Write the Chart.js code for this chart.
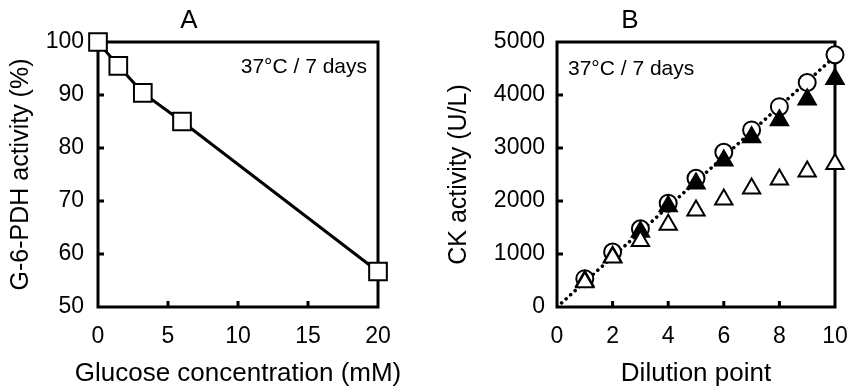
<!DOCTYPE html>
<html>
<head>
<meta charset="utf-8">
<script src="https://cdn.jsdelivr.net/npm/chart.js@4"></script>
<style>
  html, body { margin: 0; padding: 0; background: #fff; }
  #wrap { position: relative; width: 850px; height: 391px; }
  .panel { position: absolute; top: 0; width: 425px; height: 391px; }
</style>
</head>
<body>
<div id="wrap">
  <div class="panel" style="left:0"><canvas id="chartA" width="425" height="391"></canvas></div>
  <div class="panel" style="left:425px"><canvas id="chartB" width="425" height="391"></canvas></div>
</div>
<script>
// panel A data
const glucose = [0, 1.45, 3.2, 6, 20];
const g6pdh = [100, 95.5, 90.4, 85, 56.7];

// panel B data
const dilution = [1, 2, 3, 4, 5, 6, 7, 8, 9, 10];
const ckOpenCircle = [535, 1036, 1476, 1959, 2430, 2919, 3341, 3780, 4237, 4760];
const ckFilledTri = [490, 950, 1420, 1900, 2330, 2763, 3205, 3525, 3913, 4300];
const ckOpenTri = [465, 935, 1247, 1550, 1820, 2030, 2235, 2405, 2555, 2700];
const fitX = [0, 10];
const fitY = [0, 4730];

const black = '#000';
const family = '"Liberation Sans", Arial, sans-serif';

const pts = (xs, ys) => xs.map((x, i) => ({ x: x, y: ys[i] }));

// box frame + inward tick marks
const framePlugin = {
  id: 'frame',
  beforeDatasetsDraw(chart) {
    const { ctx, chartArea: a, scales: { x, y } } = chart;
    ctx.save();
    ctx.strokeStyle = black;
    ctx.lineWidth = 3;
    ctx.beginPath();
    x.ticks.forEach(t => {
      if (t.value <= x.min || t.value >= x.max) return;
      const px = x.getPixelForValue(t.value);
      ctx.moveTo(px, a.bottom);
      ctx.lineTo(px, a.bottom - 6);
    });
    y.ticks.forEach(t => {
      if (t.value <= y.min || t.value >= y.max) return;
      const py = y.getPixelForValue(t.value);
      ctx.moveTo(a.left, py);
      ctx.lineTo(a.left + 6, py);
    });
    ctx.stroke();
    ctx.strokeRect(a.left, a.top, a.right - a.left, a.bottom - a.top);
    ctx.restore();
  }
};

// texts: "37°C / 7 days" note inside the plot, x axis title below it
const notePlugin = {
  id: 'note',
  afterDatasetsDraw(chart, args, opts) {
    const { ctx, chartArea: a } = chart;
    ctx.save();
    ctx.fillStyle = black;
    ctx.textBaseline = 'middle';
    ctx.font = '21px ' + family;
    ctx.textAlign = opts.align;
    const x = opts.align === 'right' ? a.right - opts.inset : a.left + opts.inset;
    ctx.fillText(opts.text, x, a.top + opts.dy);
    ctx.font = '26px ' + family;
    ctx.textAlign = 'center';
    ctx.fillText(opts.xTitle, (a.left + a.right) / 2, chart.height - 17);
    ctx.restore();
  }
};

function baseOptions(title, yTitle, yWidth, rightPad, yTitlePad) {
  return {
    responsive: false,
    animation: false,
    layout: { padding: { left: 0, right: rightPad, top: 0, bottom: 0 } },
    plugins: {
      legend: { display: false },
      tooltip: { enabled: false },
      title: {
        display: true, text: title, color: black,
        font: { family: family, size: 26, weight: 'normal' },
        padding: { top: 5, bottom: 5.8 }
      }
    },
    scales: {
      x: {
        type: 'linear',
        grid: { display: false, drawTicks: false },
        border: { display: false },
        ticks: { color: black, font: { family: family, size: 23 }, padding: 16, maxRotation: 0, autoSkip: false },
        afterFit: s => { s.height = 84; s.paddingLeft = 0; s.paddingRight = 0; }
      },
      y: {
        type: 'linear',
        grid: { display: false, drawTicks: false },
        border: { display: false },
        ticks: { color: black, font: { family: family, size: 23 }, padding: 14, autoSkip: false, callback: v => String(v) },
        title: { display: true, text: yTitle, color: black, font: { family: family, size: 25 }, padding: { top: yTitlePad, bottom: 0 } },
        afterFit: s => { s.width = yWidth; }
      }
    }
  };
}

// Panel A
const optsA = baseOptions('A', 'G-6-PDH activity (%)', 98, 47, 6);
Object.assign(optsA.scales.x, { min: 0, max: 20 });
optsA.scales.x.ticks.stepSize = 5;
Object.assign(optsA.scales.y, { min: 50, max: 100 });
optsA.scales.y.ticks.stepSize = 10;
optsA.plugins.note = { text: '37°C / 7 days', align: 'right', inset: 11, dy: 25, xTitle: 'Glucose concentration (mM)' };

new Chart(document.getElementById('chartA'), {
  type: 'scatter',
  data: {
    datasets: [{
      data: pts(glucose, g6pdh),
      showLine: true,
      borderColor: black,
      borderWidth: 3,
      pointStyle: 'rect',
      pointRadius: 12.5,
      pointBorderWidth: 2,
      pointBackgroundColor: '#fff',
      pointBorderColor: black,
      clip: false
    }]
  },
  options: optsA,
  plugins: [framePlugin, notePlugin]
});

// Panel B
const optsB = baseOptions('B', 'CK activity (U/L)', 132, 15, 19);
Object.assign(optsB.scales.x, { min: 0, max: 10 });
optsB.scales.x.ticks.stepSize = 2;
Object.assign(optsB.scales.y, { min: 0, max: 5000 });
optsB.scales.y.ticks.stepSize = 1000;
optsB.scales.y.ticks.padding = 12;
optsB.plugins.note = { text: '37°C / 7 days', align: 'left', inset: 11, dy: 27, xTitle: 'Dilution point' };

new Chart(document.getElementById('chartB'), {
  type: 'scatter',
  data: {
    datasets: [
      {
        data: pts(dilution, ckOpenTri),
        order: 0,
        pointStyle: 'triangle', pointRadius: 10, pointBorderWidth: 2,
        pointBackgroundColor: '#fff', pointBorderColor: black, clip: false
      },
      {
        data: pts(dilution, ckFilledTri),
        order: 1,
        pointStyle: 'triangle', pointRadius: 10, pointBorderWidth: 2,
        pointBackgroundColor: black, pointBorderColor: black, clip: false
      },
      {
        data: pts(dilution, ckOpenCircle),
        order: 2,
        pointStyle: 'circle', pointRadius: 8.5, pointBorderWidth: 2,
        pointBackgroundColor: '#fff', pointBorderColor: black, clip: false
      },
      {
        data: pts(fitX, fitY),
        order: 3,
        showLine: true,
        borderColor: black,
        borderWidth: 3.5,
        borderDash: [0.1, 6],
        borderCapStyle: 'round',
        pointRadius: 0
      }
    ]
  },
  options: optsB,
  plugins: [framePlugin, notePlugin]
});
</script>
</body>
</html>
